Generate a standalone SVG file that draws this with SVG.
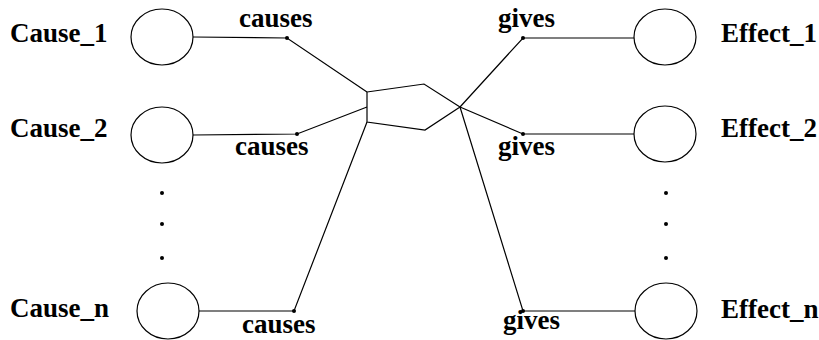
<svg xmlns="http://www.w3.org/2000/svg" width="819" height="340" viewBox="0 0 819 340">
<style>
.n{fill:none;stroke:#000;stroke-width:1.2}
.c{fill:none;stroke:#000;stroke-width:1.2}
text{font-weight:bold;font-size:27px;fill:#000}
.d{fill:#000}
</style>
<rect width="819" height="340" fill="#fff"/>
<g id="connectors" font-family="Liberation Serif, Times New Roman, serif">
<polyline class="c" points="193,37 287,38 367,92"/>
<polyline class="c" points="193,135 297,134 367,107"/>
<polyline class="c" points="199,311 294,311 367,122"/>
<polygon class="c" points="367,92 424,84 460,107 425,130 367,122"/>
<polyline class="c" points="460,107 523,38 634,38"/>
<polyline class="c" points="460,107 523,134 634,134"/>
<polyline class="c" points="460,107 523,311 635,311"/>
<circle class="d" cx="287" cy="38" r="2"/>
<circle class="d" cx="297" cy="134" r="2"/>
<circle class="d" cx="294" cy="311" r="2"/>
<circle class="d" cx="523" cy="38" r="2"/>
<circle class="d" cx="523" cy="134" r="2"/>
<circle class="d" cx="523" cy="311" r="2"/>
<text x="239" y="27">causes</text>
<text x="235" y="155">causes</text>
<text x="242" y="333">causes</text>
<text x="498" y="27">gives</text>
<text x="498" y="155">gives</text>
<text x="503" y="329">gives</text>
</g>
<g font-family="Liberation Serif, Times New Roman, serif">
<g id="cause1"><ellipse class="n" cx="162" cy="37" rx="31" ry="28"/><text x="10" y="42">Cause_1</text></g>
<g id="cause2"><ellipse class="n" cx="162" cy="135" rx="31" ry="28"/><text x="10" y="137">Cause_2</text></g>
<g id="causeN"><ellipse class="n" cx="168" cy="311" rx="31" ry="28"/><text x="10" y="317">Cause_n</text></g>
<g id="causeDots"><circle class="d" cx="162" cy="193" r="2"/><circle class="d" cx="162" cy="224" r="2"/><circle class="d" cx="162" cy="258" r="2"/></g>
<g id="effect1"><ellipse class="n" cx="665" cy="37" rx="31" ry="28"/><text x="721" y="42">Effect_1</text></g>
<g id="effect2"><ellipse class="n" cx="665" cy="134" rx="31" ry="28"/><text x="721" y="137">Effect_2</text></g>
<g id="effectN"><ellipse class="n" cx="666" cy="311" rx="31" ry="28"/><text x="721" y="318">Effect_n</text></g>
<g id="effectDots"><circle class="d" cx="666" cy="193" r="2"/><circle class="d" cx="666" cy="224" r="2"/><circle class="d" cx="666" cy="258" r="2"/></g>
</g>
</svg>
